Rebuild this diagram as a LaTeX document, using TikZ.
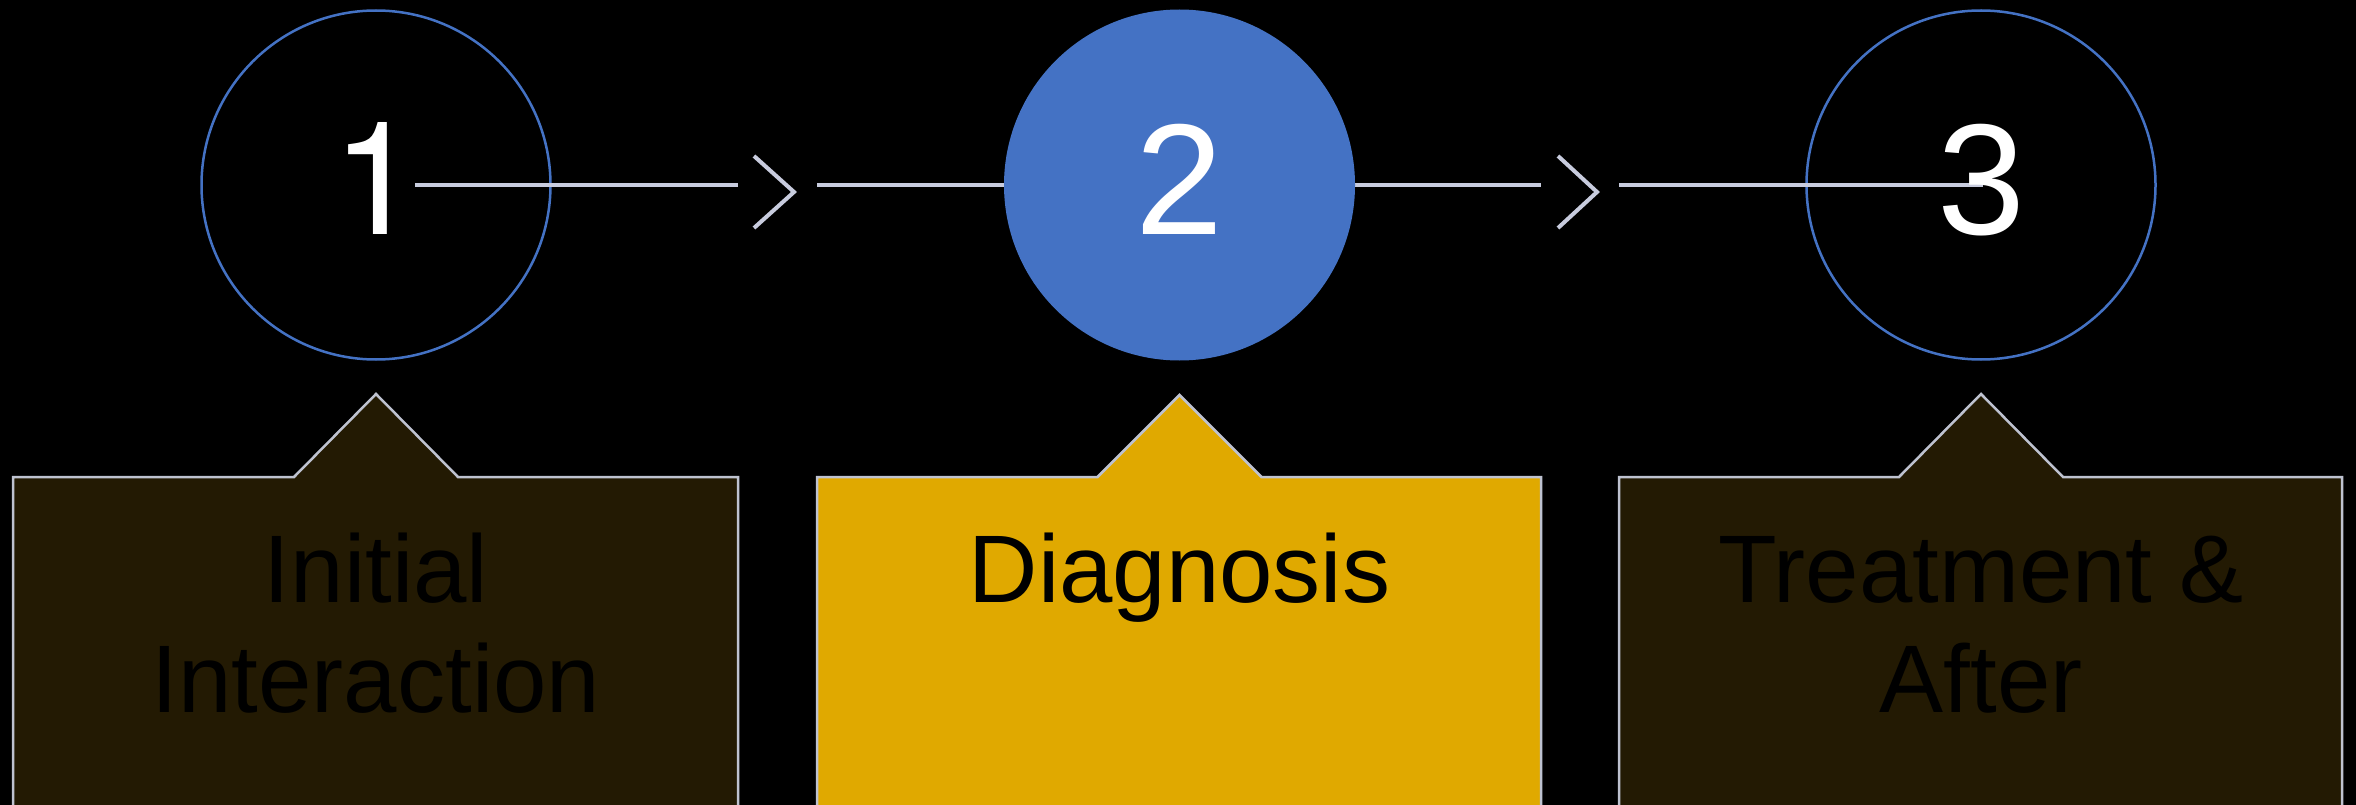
\documentclass[tikz,border=0pt]{standalone}
\usepackage{fontspec}
\setmainfont{Liberation Sans}
\newfontfamily\onefont{TeX Gyre Heros}
\definecolor{accent}{RGB}{68,114,196}
\definecolor{goldfill}{RGB}{224,169,0}
\definecolor{olivefill}{RGB}{35,26,3}
\definecolor{linec}{RGB}{200,204,222}
\definecolor{boxline}{RGB}{190,194,208}
\begin{document}
\begin{tikzpicture}[x=1pt,y=-1pt,
  ring/.style={circle, draw=accent, line width=2.5pt, minimum size=349pt, inner sep=0pt},
  disc/.style={circle, fill=accent, minimum size=351pt, inner sep=0pt},
  digit/.style={anchor=base, text=white, inner sep=0pt, font=\fontsize{158}{160}\selectfont},
  lbl/.style={anchor=base, text=black, inner sep=0pt, align=center, font=\fontsize{96}{110}\selectfont},
  calloutbox/.style={draw=boxline, line width=2.5pt, line join=miter},
  conn/.style={draw=linec, line width=4pt},
  chev/.style={draw=linec, line width=4pt, line join=miter}]
\useasboundingbox (0,0) rectangle (2356,805);
\fill[black] (0,0) rectangle (2356,805);
\clip (0,0) rectangle (2356,805);
% callout boxes
\path[calloutbox, fill=olivefill] (13,477) -- (294,477) -- (376,394) -- (458,477) -- (738,477) -- (738,830) -- (13,830) -- cycle;
\path[calloutbox, fill=goldfill] (817,477) -- (1097.5,477) -- (1179.5,395) -- (1261.5,477) -- (1541,477) -- (1541,830) -- (817,830) -- cycle;
\path[calloutbox, fill=olivefill] (1619,477) -- (1899,477) -- (1981,394) -- (2063,477) -- (2342,477) -- (2342,830) -- (1619,830) -- cycle;
% labels (base anchor = last line's baseline)
\node[lbl] (t1) at (376,712.7) {Initial\\Interaction};
\node[lbl] (t2) at (1179.5,602.7) {Diagnosis};
\node[lbl] (t3) at (1981,712.7) {Treatment \&\\After};
% outline circles
\node[ring] (c1) at (376,185) {};
\node[ring] (c3) at (1981,185) {};
% connector lines
\coordinate (l1s) at (415,185.5);
\coordinate (l1e) at (738,185.5);
\coordinate (l2s) at (817,185.5);
\coordinate (l2e) at (1541,185.5);
\coordinate (l3s) at (1619,185.5);
\coordinate (l3e) at (1983,185.5);
\draw[conn] (l1s) -- (l1e);
\draw[conn] (l2s) -- (l2e);
\draw[conn] (l3s) -- (l3e);
% chevrons
\coordinate (ch1a) at (754,156);
\coordinate (ch1b) at (794,192);
\coordinate (ch1c) at (754,228);
\coordinate (ch2a) at (1558,156);
\coordinate (ch2b) at (1597,192);
\coordinate (ch2c) at (1558,228);
\draw[chev] (ch1a) -- (ch1b) -- (ch1c);
\draw[chev] (ch2a) -- (ch2b) -- (ch2c);
% filled circle
\node[disc] (c2) at (1179.5,185) {};
% digits
\node[digit, font=\onefont\fontsize{158}{160}\selectfont] (n1) at (376,234) {1};
\node[digit] (n2) at (1179.5,234) {2};
\node[digit] (n3) at (1981,234) {3};
\end{tikzpicture}
\end{document}
